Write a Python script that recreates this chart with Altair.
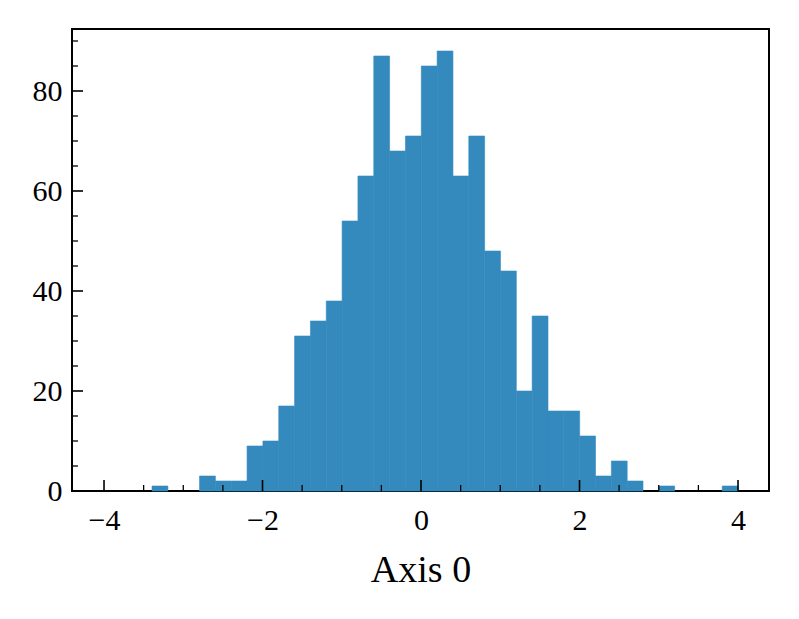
import altair as alt
import pandas as pd

# histogram counts (37 equal-width bins)
counts = [1, 0, 0, 3, 2, 2, 9, 10, 17, 31, 34, 38, 54, 63, 87, 68, 71, 85, 88,
          63, 71, 48, 44, 20, 35, 16, 16, 11, 3, 6, 2, 0, 1, 0, 0, 0, 1]
bin_start = -3.394
bin_width = 0.19985

x_major = [-4, -2, 0, 2, 4]
x_minor = [-3.5, -3, -2.5, -1.5, -1, -0.5, 0.5, 1, 1.5, 2.5, 3, 3.5]
y_major = [0, 20, 40, 60, 80]
y_minor = [5, 10, 15, 25, 30, 35, 45, 50, 55, 65, 70, 75, 85, 90]

x_domain = [-4.404, 4.391]
y_domain = [0, 92.4]

W, H = 697, 462
FONT = "Liberation Serif"
BLUE = "#348ABD"

bars = pd.DataFrame({
    "x0": [bin_start + i * bin_width for i in range(len(counts))],
    "x1": [bin_start + (i + 1) * bin_width for i in range(len(counts))],
    "count": counts,
})

xs = alt.Scale(domain=x_domain, nice=False, zero=False)
ys = alt.Scale(domain=y_domain, nice=False)

x_axis = alt.Axis(values=x_major, ticks=False, tickSize=0, domain=False, grid=False,
                  labelFont=FONT, labelFontSize=30, labelColor="black",
                  labelPadding=14, format="d",
                  title="Axis 0", titleFont=FONT, titleFontSize=38,
                  titleFontWeight="normal", titleColor="black", titlePadding=16)
y_axis = alt.Axis(values=y_major, ticks=False, tickSize=0, domain=False, grid=False,
                  labelFont=FONT, labelFontSize=30, labelColor="black",
                  labelPadding=10, title=None)

bar_layer = alt.Chart(bars).mark_rect(color=BLUE, stroke=BLUE, strokeWidth=0.6).encode(
    x=alt.X("x0:Q", scale=xs, axis=x_axis),
    x2="x1:Q",
    y=alt.Y("count:Q", scale=ys, axis=y_axis),
    y2=alt.datum(0),
).transform_filter("datum.count > 0")

def xticks(vals, length, width):
    return alt.Chart(pd.DataFrame({"v": vals})).mark_rule(color="black", strokeWidth=width).encode(
        x=alt.X("v:Q", scale=xs, axis=x_axis),
        y=alt.value(H), y2=alt.value(H - length),
    )

def yticks(vals, length, width):
    return alt.Chart(pd.DataFrame({"v": vals})).mark_rule(color="black", strokeWidth=width).encode(
        y=alt.Y("v:Q", scale=ys, axis=y_axis),
        x=alt.value(0), x2=alt.value(length),
    )

chart = alt.layer(
    bar_layer,
    xticks(x_major, 11, 1.6), xticks(x_minor, 6, 1.3),
    yticks(y_major, 11, 1.6), yticks(y_minor, 6, 1.3),
).properties(
    width=W, height=H,
    autosize=alt.AutoSizeParams(type="none"),
    padding={"left": 64, "top": 21, "right": 20, "bottom": 110},
    background="white",
).configure_view(stroke="black", strokeWidth=2)

chart.save("out.html", embed_options={"renderer": "svg", "actions": False})
